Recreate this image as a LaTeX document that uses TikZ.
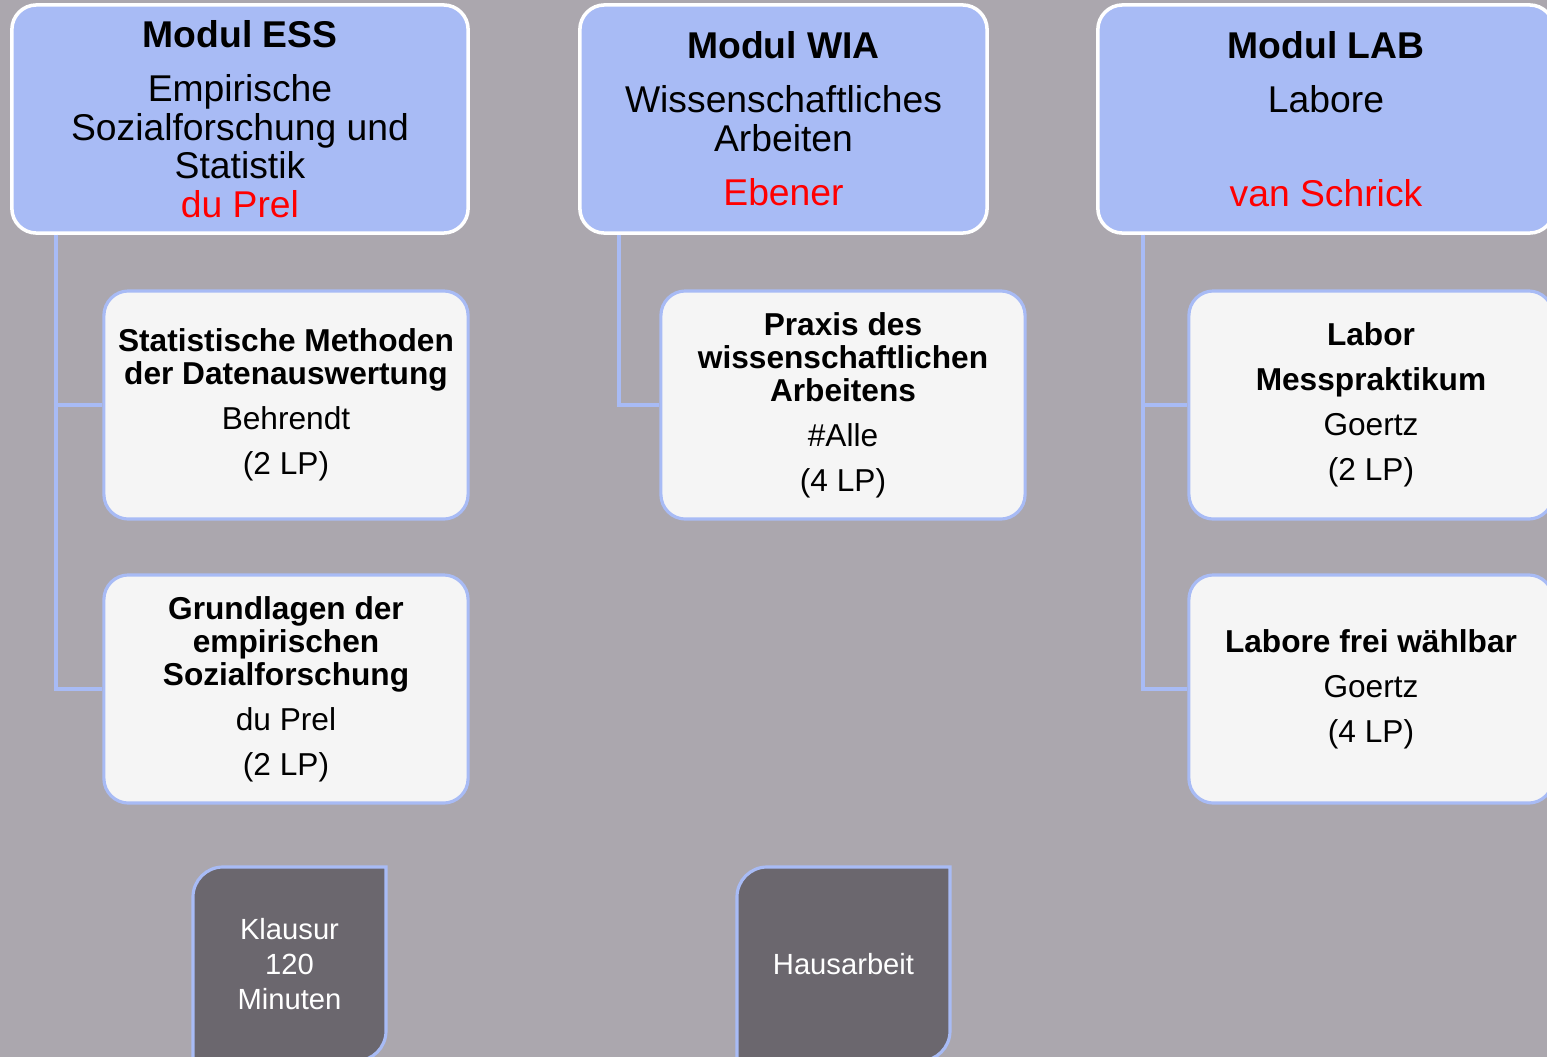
\documentclass[tikz,border=0pt]{standalone}
\usepackage{fontspec}
\setmainfont{Liberation Sans}
\usetikzlibrary{positioning}
\definecolor{bggray}{RGB}{171,167,174}
\definecolor{modblue}{RGB}{168,187,245}
\definecolor{subfill}{RGB}{245,245,245}
\definecolor{examfill}{RGB}{107,103,110}

\begin{document}
\begin{tikzpicture}[x=0.01cm, y=-0.01cm,
  modul/.style={draw=white, line width=1pt, fill=modblue, rounded corners=7pt,
    minimum height=2.28cm, align=center, inner sep=0pt,
    font=\fontsize{10.6}{11}\selectfont},
  teil/.style={draw=modblue, line width=0.9pt, fill=subfill, rounded corners=7pt,
    minimum width=3.64cm, minimum height=2.28cm, align=center, inner sep=0pt,
    font=\fontsize{9}{9.4}\selectfont},
  pruefung/.style={draw=modblue, line width=0.9pt, fill=examfill},
  pruefungtext/.style={text=white, align=center, inner sep=0pt,
    font=\fontsize{8.3}{10}\selectfont},
  link/.style={draw=modblue, line width=1.1pt}]
\useasboundingbox (0,0) rectangle (1547,1057);
\clip (0,0) rectangle (1547,1057);
\fill[bggray] (0,0) rectangle (1547,1057);

\node[modul, minimum width=4.56cm] (ess) at (240,119)
  {\textbf{Modul ESS}\\[4.4pt]Empirische\\Sozialforschung und\\Statistik\\\textcolor{red}{du Prel}};
\node[modul, minimum width=4.07cm] (wia) at (783.5,119)
  {\textbf{Modul WIA}\\[4.4pt]Wissenschaftliches\\Arbeiten\\[4.4pt]\textcolor{red}{Ebener}};
\node[modul, minimum width=4.56cm] (lab) at (1326,119)
  {\textbf{Modul LAB}\\[4.4pt]Labore\\[15.5pt]\textcolor{red}{van Schrick}};

\node[teil] (statistik) at (286,405)
  {\textbf{Statistische Methoden}\\\textbf{der Datenauswertung}\\[3.4pt]Behrendt\\[3.4pt](2 LP)};
\node[teil] (grundlagen) at (286,689)
  {\textbf{Grundlagen der}\\\textbf{empirischen}\\\textbf{Sozialforschung}\\[3.4pt]du Prel\\[3.4pt](2 LP)};
\node[teil] (praxis) at (843,405)
  {\textbf{Praxis des}\\\textbf{wissenschaftlichen}\\\textbf{Arbeitens}\\[3.4pt]\#Alle\\[3.4pt](4 LP)};
\node[teil] (messpraktikum) at (1371,405)
  {\textbf{Labor}\\[3.4pt]\textbf{Messpraktikum}\\[3.4pt]Goertz\\[3.4pt](2 LP)};
\node[teil] (laborefrei) at (1371,689)
  {\textbf{Labore frei wählbar}\\[3.4pt]Goertz\\[3.4pt](4 LP)};

\path[link] ([xshift=0.46cm]ess.south west) |- (statistik.west);
\path[link] ([xshift=0.46cm]ess.south west) |- (grundlagen.west);
\path[link] ([xshift=0.41cm]wia.south west) |- (praxis.west);
\path[link] ([xshift=0.47cm]lab.south west) |- (messpraktikum.west);
\path[link] ([xshift=0.47cm]lab.south west) |- (laborefrei.west);

\path[pruefung] (193,1061) -- (193,897) arc[start angle=180, end angle=270, radius=30]
  -- (386,867) -- (386,1031) arc[start angle=0, end angle=90, radius=30] -- cycle;
\node[pruefungtext] (klausur) at (289.5,964) {Klausur\\120\\Minuten};

\path[pruefung] (737,1061) -- (737,897) arc[start angle=180, end angle=270, radius=30]
  -- (950,867) -- (950,1031) arc[start angle=0, end angle=90, radius=30] -- cycle;
\node[pruefungtext] (hausarbeit) at (843.5,964) {Hausarbeit};
\end{tikzpicture}
\end{document}
